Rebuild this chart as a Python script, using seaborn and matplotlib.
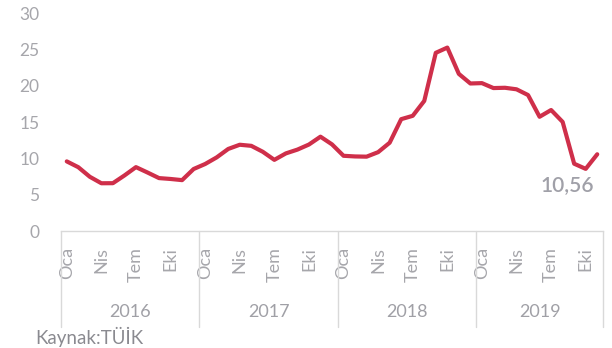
import matplotlib
matplotlib.use("Agg")
import matplotlib.pyplot as plt
import matplotlib.transforms as mtransforms
import seaborn as sns
import pandas as pd

# ---- data ----
years = ["2016", "2017", "2018", "2019"]
month_names = ["Oca", "Nis", "Tem", "Eki"]
inflation = [
    9.58, 8.78, 7.46, 6.57, 6.58, 7.64, 8.79, 8.05, 7.28, 7.16, 7.00, 8.53,      # 2016
    9.22, 10.13, 11.29, 11.87, 11.72, 10.90, 9.79, 10.68, 11.20, 11.90, 12.98, 11.92,  # 2017
    10.35, 10.26, 10.23, 10.85, 12.15, 15.39, 15.85, 17.90, 24.52, 25.24, 21.62, 20.30,  # 2018
    20.35, 19.67, 19.71, 19.50, 18.71, 15.72, 16.65, 15.01, 9.26, 8.55, 10.56,   # 2019
]
last_label = "10,56"
source_text = "Kaynak:TÜİK"

sns.set_theme(style="white")
plt.rcParams['font.family'] = ['Lato', 'DejaVu Sans']

n = len(inflation)
df = pd.DataFrame({"t": list(range(n)), "v": inflation})

W, H = 612, 348
fig = plt.figure(figsize=(W / 100, H / 100), dpi=100)
ax = fig.add_axes([61 / W, 1 - 231 / H, (603 - 61) / W, (231 - 13) / H])

sns.lineplot(data=df, x="t", y="v", ax=ax, color="#cf2f4a", linewidth=3.0,
             solid_joinstyle="round", solid_capstyle="round")

ax.set_xlim(-0.5, n - 0.5)
ax.set_ylim(0, 30)
ax.set_yticks(range(0, 31, 5))
ax.set_xlabel("")
ax.set_ylabel("")

tick_pos = list(range(0, n, 3))
ax.set_xticks(tick_pos)
ax.set_xticklabels([month_names[(p // 3) % 4] for p in tick_pos], rotation=90)

label_color = "#a6a6ab"
ax.tick_params(axis="y", length=0, pad=15.5, labelsize=12.5, labelcolor=label_color)
ax.tick_params(axis="x", length=0, pad=11.5, labelsize=13, labelcolor=label_color)

for s in ["top", "right", "left"]:
    ax.spines[s].set_visible(False)
ax.spines["bottom"].set_color("#d9d9d9")
ax.spines["bottom"].set_linewidth(1.0)
ax.grid(False)

trans = mtransforms.blended_transform_factory(ax.transData, ax.transAxes)
bounds = []
for k, yr in enumerate(years):
    start = 12 * k - 0.5
    end = min(12 * (k + 1), n) - 0.5
    bounds.append(start)
    ax.text((start + end) / 2, -0.372, yr, transform=trans, ha="center", va="center",
            fontsize=13, color="#a0a0a6")
bounds.append(n - 0.5)
for b in bounds:
    ax.plot([b, b], [0, -0.44], transform=trans, clip_on=False, color="#d9d9d9", lw=1.0)

ax.annotate(last_label, xy=(n - 1, inflation[-1]), xytext=(-21.6, -22.3),
            textcoords="offset points", ha="center", va="center",
            fontsize=15, fontweight="semibold", color="#a0a0a8")

fig.text(35 / W, 1 - 344 / H, source_text, ha="left", va="baseline",
         fontsize=13.5, color="#8a8a90")

fig.savefig("out.png", dpi=100)
